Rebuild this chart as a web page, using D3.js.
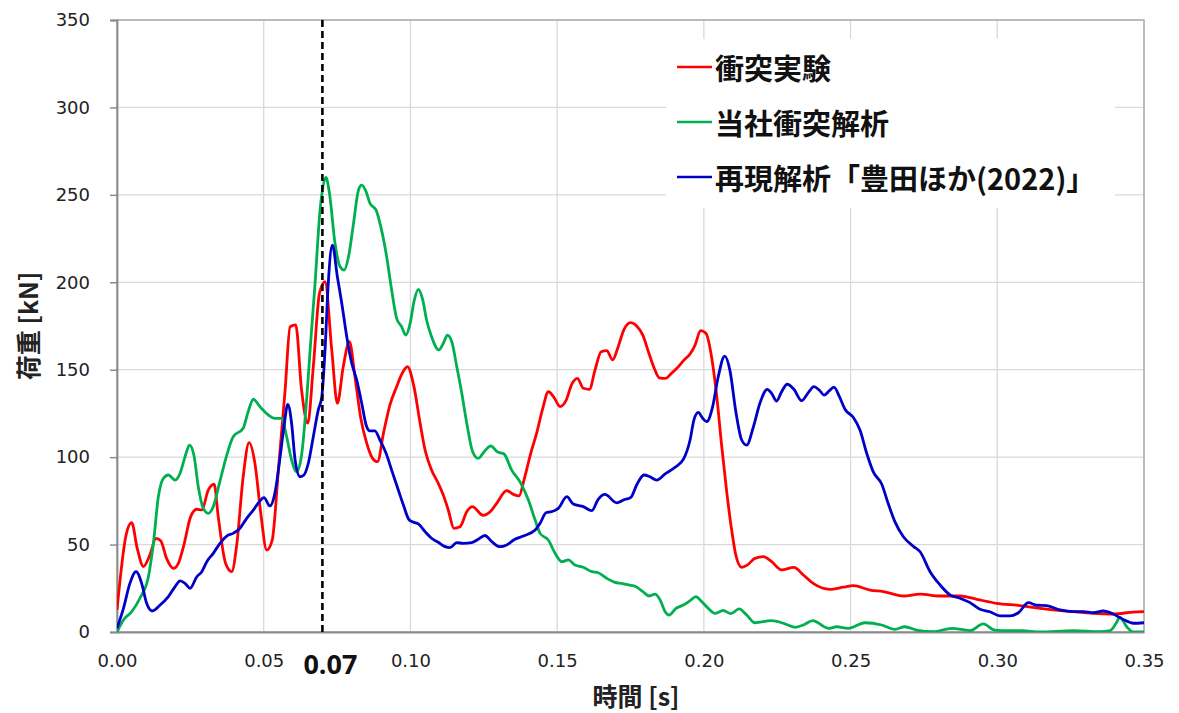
<!DOCTYPE html>
<html><head><meta charset="utf-8">
<script src="https://cdn.jsdelivr.net/npm/d3@7"></script>
<style>
html,body{margin:0;padding:0;background:#fff;}
svg{display:block;}
</style></head>
<body>
<svg id="chart" width="1179" height="713"></svg>
<script>
// ---------- data ----------
const seriesNames = ["衝突実験", "当社衝突解析", "再現解析「豊田ほか(2022)」"];
const xTickValues = [0, 0.05, 0.10, 0.15, 0.20, 0.25, 0.30, 0.35];
const yTickValues = [0, 50, 100, 150, 200, 250, 300, 350];
const markerTime = 0.07;
const markerLabel = "0.07";
const xTitle = "時間 [s]";
const yTitle = "荷重 [kN]";

const redTime = [0,0.0031,0.005,0.0069,0.009,0.0112,0.0133,0.0149,0.0169,0.0192,0.0209,0.0228,0.0251,0.0272,0.0289,0.0311,0.0331,0.0345,0.037,0.0391,0.0408,0.043,0.045,0.047,0.049,0.051,0.0529,0.055,0.0573,0.059,0.0609,0.0629,0.065,0.0669,0.069,0.0709,0.0732,0.0751,0.0771,0.0792,0.0811,0.083,0.0851,0.0871,0.0888,0.0908,0.093,0.0953,0.0972,0.099,0.1012,0.1033,0.105,0.1072,0.1095,0.1112,0.1129,0.1148,0.1169,0.1192,0.1211,0.1248,0.1271,0.1294,0.1328,0.1351,0.137,0.1387,0.141,0.143,0.1451,0.147,0.1489,0.151,0.153,0.155,0.1569,0.1589,0.161,0.1629,0.165,0.1669,0.1689,0.1708,0.1728,0.1751,0.1771,0.1792,0.1811,0.1831,0.1848,0.187,0.189,0.1913,0.1933,0.1953,0.197,0.1989,0.2007,0.2027,0.2044,0.2061,0.2078,0.2095,0.2109,0.2129,0.2148,0.2174,0.2203,0.2231,0.2265,0.2307,0.2339,0.2375,0.243,0.2475,0.2509,0.2566,0.2612,0.268,0.2737,0.2805,0.2873,0.293,0.2998,0.3077,0.3146,0.3214,0.3305,0.3395,0.3464,0.35];
const redLoad = [12.6,55.5,62.5,47.8,37.4,44,53.6,52.2,42.1,36.4,39.3,49.8,66,70.2,69.8,81.2,84.5,66,39.3,34.5,49.8,88.8,108.3,96.5,67.9,46.9,52.6,92.6,138.4,174.6,175.6,138.4,119.4,151.7,193.7,200.3,161,130.8,151.7,166,146,123,108,99.3,97.4,113.6,129.8,140.3,148,151.7,140.3,119.4,104,92.6,85,78.3,69.8,59.3,60.2,68.8,71.7,66.7,68.6,73.6,80.8,78.7,77.8,86.9,102.2,113.6,127.9,137.4,134.2,128.9,132.3,141.8,145.1,139.4,138.8,149.8,160.3,160.9,155.6,163.2,173.1,176.9,175,169.8,160.3,150.8,145.4,145.1,148,151.7,155.6,159,164.1,172.3,170.8,156.5,134.6,106,80,58,44,37,38.3,42.1,43.1,40.2,35.5,37,32.6,27.5,24.4,25.6,26.5,24,23.1,20.6,21.7,20.6,20.6,18.7,16.4,15.1,13.5,12.2,11,10.3,11.4,11.6];

const greenTime = [0,0.0022,0.005,0.0078,0.0107,0.0124,0.0141,0.0158,0.0175,0.0198,0.0215,0.0232,0.0247,0.0262,0.0277,0.0294,0.0311,0.0328,0.0349,0.0371,0.0396,0.043,0.0447,0.0465,0.0487,0.0516,0.0538,0.0561,0.0578,0.0595,0.0612,0.0629,0.0647,0.0658,0.0675,0.0692,0.0712,0.0724,0.0743,0.076,0.0774,0.0789,0.0806,0.0823,0.0834,0.0849,0.0862,0.0883,0.0899,0.0919,0.0936,0.0953,0.097,0.0984,0.0999,0.1012,0.1027,0.1042,0.1055,0.1072,0.1097,0.1112,0.1126,0.1141,0.1158,0.1175,0.1192,0.1212,0.1231,0.1254,0.1274,0.1296,0.1319,0.1345,0.1373,0.1402,0.1425,0.1442,0.147,0.1493,0.1516,0.1538,0.1561,0.1589,0.1618,0.164,0.1669,0.1697,0.172,0.1743,0.1769,0.1792,0.1814,0.1834,0.1851,0.1868,0.1882,0.1905,0.193,0.1953,0.1973,0.1993,0.2015,0.2038,0.2066,0.2092,0.212,0.2146,0.2174,0.2231,0.2271,0.2311,0.2339,0.2371,0.2424,0.2453,0.2492,0.2549,0.2606,0.2651,0.2685,0.2725,0.2782,0.2845,0.2907,0.2952,0.2992,0.3043,0.3083,0.3146,0.3259,0.335,0.3384,0.3405,0.3418,0.3441,0.3464,0.35];
const greenLoad = [0,6.9,11.6,19.3,31.6,50.7,77.4,87.9,89.8,86.9,90.8,100.3,106.9,101.2,83.1,70.8,67.9,71.7,85,99.3,111.7,116.5,126,133.1,128.9,124.1,122.2,122.2,111.7,98.4,91.7,101.2,134.6,161,199.4,241.3,260,251,222.3,209,207,214.6,233.7,252.8,255.6,251.8,245.2,241.3,231.8,214.6,195.6,179.4,174.6,169.8,176.5,188.9,196,189.9,178.4,168.9,161.3,165.1,169.8,166,151.7,136.5,119.4,103.1,99.3,103.7,106.4,103.1,101.8,92.6,86,75.5,64,56.4,52.6,45,40.2,41.2,38.3,37,34.5,33.9,30.7,28.4,27.8,26.9,25.9,23.1,20.6,21.7,18.3,11.6,9.7,13.5,15.4,17.9,20.2,17.3,13.5,10.7,12.3,10.5,13.2,9.7,5.3,6.5,5,2.7,4,6.5,2.1,3,2.1,5.3,4,1.5,3,1.1,0.2,2.1,0.8,4.6,1.1,0.8,0.8,0,0.8,0.2,0.8,5,8.4,3,0,0];

const blueTime = [0,0.0022,0.0044,0.0065,0.0084,0.0101,0.012,0.0147,0.0175,0.0198,0.0215,0.0232,0.0249,0.0272,0.0289,0.0306,0.0328,0.0351,0.0374,0.0396,0.0419,0.0442,0.0465,0.0485,0.0501,0.0521,0.0538,0.0556,0.0569,0.0582,0.0595,0.0607,0.0624,0.0637,0.0652,0.0669,0.0686,0.0698,0.0709,0.072,0.0734,0.0751,0.0766,0.0783,0.08,0.0817,0.0834,0.0849,0.0862,0.0879,0.0896,0.0917,0.0936,0.0955,0.0976,0.0996,0.1012,0.1027,0.105,0.1072,0.1095,0.1118,0.1135,0.1158,0.118,0.1209,0.1231,0.1254,0.1277,0.1305,0.1328,0.1356,0.1385,0.1425,0.1442,0.1462,0.1481,0.1504,0.1533,0.1555,0.1589,0.1618,0.164,0.1663,0.1703,0.1726,0.1751,0.1771,0.1796,0.1816,0.1839,0.1868,0.1902,0.1932,0.1953,0.1966,0.1981,0.1996,0.201,0.203,0.2049,0.2071,0.2089,0.2109,0.2129,0.2146,0.2169,0.2191,0.2216,0.2231,0.2248,0.2265,0.2284,0.2307,0.2333,0.2356,0.2375,0.2393,0.241,0.2428,0.2443,0.2462,0.2481,0.2509,0.2532,0.2555,0.2577,0.2606,0.2628,0.2651,0.268,0.2714,0.2737,0.2771,0.2805,0.2839,0.2873,0.2907,0.2941,0.2975,0.3009,0.3043,0.3072,0.3106,0.3134,0.3168,0.3214,0.3259,0.3293,0.3327,0.3361,0.3395,0.3429,0.3464,0.35];
const blueLoad = [2.1,13.5,27.8,34.5,27.8,16.4,12,15.4,20.2,25.9,29.2,27.8,25,31.6,34.5,40.2,45,50.7,54.9,56.4,59.3,65,69.8,74.5,76.8,72.1,79.3,100.3,117.4,130.2,119.4,98.4,88.8,89.8,96.5,111.7,127,134.6,161.3,199.4,221.3,203.2,188,168.9,153.7,144.1,130.8,118.4,115,115,109.8,102.2,92.6,83.1,72.6,64,62.7,61.8,57.4,53.6,51.3,48.8,48.2,51.1,50.7,51.1,53,55.2,51.7,48.8,49.8,53,54.9,58.3,62.2,68.2,68.8,70.7,77.4,73.2,71.7,69.4,75.9,78.7,73.9,75.5,77,84.1,89.8,88.8,86.9,90.4,94.2,99.3,109.8,121.2,125.6,122.2,120.3,128.9,146,157.8,149.5,126,109.8,106.9,117.4,130.8,138.8,136.5,132.1,137.4,141.7,138.8,132.3,136.9,140.3,138.4,135.5,138,140,134.6,127.4,122.8,115.5,102.2,91.7,84.6,73.6,63.1,54.5,49,45.9,34.5,26.9,21.2,19.3,16.8,13,11.6,9.2,9.2,11,16.8,15.3,15.1,12.6,11.6,11.6,11,12,10.3,7.2,5,5.3];

// ---------- layout ----------
const M = {left:117, right:1144, top:20, bottom:632};
const colors = ["#ff0000", "#00b050", "#0000c8"];
const svg = d3.select("#chart");

const x = d3.scaleLinear().domain([0, 0.35]).range([M.left, M.right]);
const y = d3.scaleLinear().domain([0, 350]).range([M.bottom, M.top]);

// grid
svg.append("g").selectAll("line.h").data(yTickValues).join("line")
  .attr("x1", M.left).attr("x2", M.right)
  .attr("y1", d => y(d)).attr("y2", d => y(d))
  .attr("stroke", "#d9d9d9").attr("stroke-width", 1.3);
svg.append("g").selectAll("line.v").data(xTickValues).join("line")
  .attr("x1", d => x(d)).attr("x2", d => x(d))
  .attr("y1", M.top).attr("y2", M.bottom)
  .attr("stroke", "#d9d9d9").attr("stroke-width", 1.3);

// plot border (top/right)
svg.append("rect").attr("x", M.left).attr("y", M.top)
  .attr("width", M.right - M.left).attr("height", M.bottom - M.top)
  .attr("fill", "none").attr("stroke", "#a6a6a6").attr("stroke-width", 1.3);

// axes
const yAxis = d3.axisLeft(y).tickValues(yTickValues).tickSize(7).tickPadding(20).tickFormat(d3.format("d"));
const gy = svg.append("g").attr("transform", `translate(${M.left},0)`).call(yAxis);
gy.select(".domain").attr("stroke", "#8c8c8c").attr("stroke-width", 1.8);
gy.selectAll(".tick line").attr("stroke", "#8c8c8c").attr("stroke-width", 1.5);
gy.selectAll("text").attr("font-family", "'DejaVu Sans', sans-serif").attr("font-size", 18).attr("fill", "#222");

const xAxis = d3.axisBottom(x).tickValues(xTickValues).tickSize(0).tickPadding(22).tickFormat(d3.format(".2f"));
const gx = svg.append("g").attr("transform", `translate(0,${M.bottom})`).call(xAxis);
gx.select(".domain").attr("stroke", "#8c8c8c").attr("stroke-width", 1.8);
gx.selectAll("text").attr("font-family", "'DejaVu Sans', sans-serif").attr("font-size", 18).attr("fill", "#222");

// series
const series = [
  {name: seriesNames[0], t: redTime, v: redLoad, color: colors[0]},
  {name: seriesNames[1], t: greenTime, v: greenLoad, color: colors[1]},
  {name: seriesNames[2], t: blueTime, v: blueLoad, color: colors[2]}
];
svg.append("clipPath").attr("id", "clip").append("rect")
  .attr("x", M.left).attr("y", M.top - 5).attr("width", M.right - M.left).attr("height", M.bottom - M.top + 5);
const line = d3.line().x(d => x(d[0])).y(d => y(d[1])).curve(d3.curveMonotoneX);
const gl = svg.append("g").attr("clip-path", "url(#clip)");
series.forEach(s => {
  gl.append("path").datum(s.t.map((t, i) => [t, s.v[i]]))
    .attr("d", line).attr("fill", "none").attr("stroke", s.color)
    .attr("stroke-width", 2.8).attr("stroke-linejoin", "round");
});

// marker dashed line
svg.append("line").attr("x1", x(markerTime)).attr("x2", x(markerTime))
  .attr("y1", M.top).attr("y2", M.bottom)
  .attr("stroke", "#000").attr("stroke-width", 2.6).attr("stroke-dasharray", "7,4");
svg.append("text").attr("x", x(markerTime) + 8).attr("y", 663)
  .attr("text-anchor", "middle").attr("dominant-baseline", "central")
  .attr("font-family", "'Open Sans', sans-serif").attr("font-weight", "bold")
  .attr("font-size", 27).attr("fill", "#111").text(markerLabel);

// axis titles
svg.append("text").attr("x", 636).attr("y", 695)
  .attr("text-anchor", "middle").attr("dominant-baseline", "central")
  .attr("font-family", "'Noto Sans CJK JP', sans-serif").attr("font-weight", "bold")
  .attr("font-size", 25).attr("fill", "#222").text(xTitle);
svg.append("text").attr("transform", "translate(27,326) rotate(-90)")
  .attr("text-anchor", "middle").attr("dominant-baseline", "central")
  .attr("font-family", "'Noto Sans CJK JP', sans-serif").attr("font-weight", "bold")
  .attr("font-size", 25).attr("fill", "#222").text(yTitle);

// legend
const lg = svg.append("g");
lg.append("rect").attr("x", 666).attr("y", 39).attr("width", 449).attr("height", 169).attr("fill", "#fff");
const legendY = [67, 122, 177];
series.forEach((s, i) => {
  lg.append("line").attr("x1", 677).attr("x2", 712).attr("y1", legendY[i]).attr("y2", legendY[i])
    .attr("stroke", s.color).attr("stroke-width", 2.6);
  lg.append("text").attr("x", 715).attr("y", legendY[i])
    .attr("dominant-baseline", "central")
    .attr("font-family", "'Noto Sans CJK JP', sans-serif").attr("font-weight", "bold")
    .attr("font-size", 29).attr("fill", "#111").text(s.name);
});
</script>
</body></html>
